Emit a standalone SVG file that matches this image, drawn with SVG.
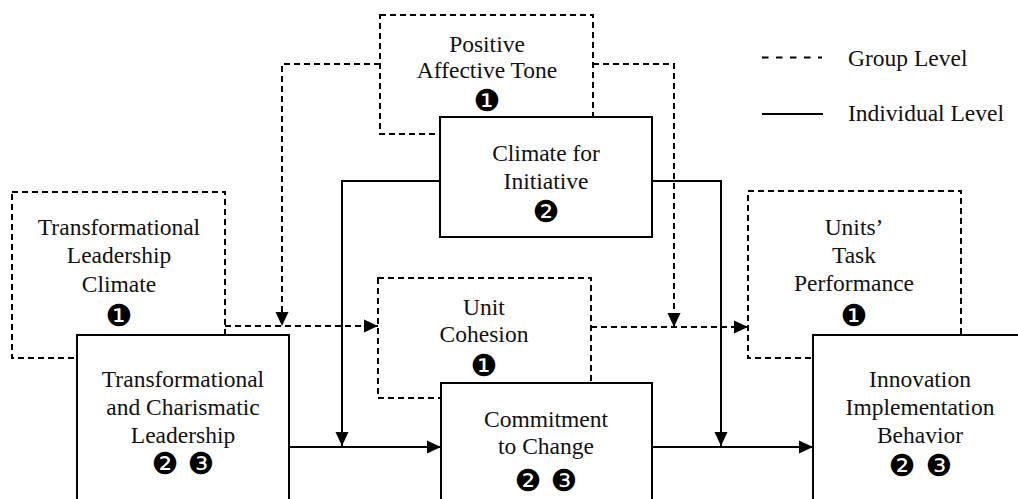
<svg xmlns="http://www.w3.org/2000/svg" width="1018" height="499" viewBox="0 0 1018 499">
  <style>
    .grp { fill: none; stroke: #000; stroke-width: 2; stroke-dasharray: 6 4; }
    .ind { fill: #fff; stroke: #000; stroke-width: 2; }
    .dash { fill: none; stroke: #000; stroke-width: 2; stroke-dasharray: 6 4; }
    .solid { fill: none; stroke: #000; stroke-width: 2; }
    .lbl { font-family: "Liberation Serif", "Times New Roman", serif; font-size: 23.5px; fill: #111; text-anchor: middle; }
    .leg { font-family: "Liberation Serif", "Times New Roman", serif; font-size: 23.5px; fill: #111; }
    .num { font-family: "DejaVu Sans", sans-serif; font-size: 30px; fill: #000; text-anchor: middle; }
  </style>
  <defs>
    <marker id="arrow" viewBox="0 0 14 14" refX="14" refY="7" markerWidth="14" markerHeight="14" markerUnits="userSpaceOnUse" orient="auto">
      <path d="M0,0.5 L14,7 L0,13.5 Z" fill="#000"/>
    </marker>
  </defs>
  <rect width="1018" height="499" fill="#fff"/>

  <!-- group-level constructs (dashed) -->
  <g id="positive-affective-tone">
    <rect class="grp" x="380" y="15" width="213" height="119"/>
    <text class="lbl" x="487" y="52">Positive</text>
    <text class="lbl" x="487" y="78">Affective Tone</text>
    <text class="num" x="487" y="110.5">❶</text>
  </g>
  <g id="transformational-leadership-climate">
    <rect class="grp" x="12" y="192" width="213" height="166"/>
    <text class="lbl" x="119" y="235">Transformational</text>
    <text class="lbl" x="119" y="263">Leadership</text>
    <text class="lbl" x="119" y="292">Climate</text>
    <text class="num" x="119" y="325.5">❶</text>
  </g>
  <g id="unit-cohesion">
    <rect class="grp" x="378" y="278" width="213" height="120"/>
    <text class="lbl" x="484" y="315">Unit</text>
    <text class="lbl" x="484" y="342">Cohesion</text>
    <text class="num" x="484" y="375.5">❶</text>
  </g>
  <g id="units-task-performance">
    <rect class="grp" x="748" y="191" width="213" height="167"/>
    <text class="lbl" x="854" y="235">Units’</text>
    <text class="lbl" x="854" y="263">Task</text>
    <text class="lbl" x="854" y="291">Performance</text>
    <text class="num" x="854" y="325.5">❶</text>
  </g>

  <!-- connectors -->
  <g id="connectors">
    <polyline class="dash" points="380,64 282,64 282,326" marker-end="url(#arrow)"/>
    <polyline class="dash" points="593,64 674,64 674,327" marker-end="url(#arrow)"/>
    <line class="dash" x1="225" y1="326" x2="378" y2="326" marker-end="url(#arrow)"/>
    <line class="dash" x1="591" y1="327" x2="748" y2="327" marker-end="url(#arrow)"/>
    <polyline class="solid" points="440,181 342,181 342,446" marker-end="url(#arrow)"/>
    <polyline class="solid" points="652,181 721,181 721,446" marker-end="url(#arrow)"/>
    <line class="solid" x1="289" y1="447" x2="441" y2="447" marker-end="url(#arrow)"/>
    <line class="solid" x1="652" y1="447" x2="813" y2="447" marker-end="url(#arrow)"/>
  </g>

  <!-- individual-level constructs (solid) -->
  <g id="climate-for-initiative">
    <rect class="ind" x="440" y="117" width="212" height="120"/>
    <text class="lbl" x="546" y="161">Climate for</text>
    <text class="lbl" x="546" y="189">Initiative</text>
    <text class="num" x="546" y="221.5">❷</text>
  </g>
  <g id="transformational-charismatic-leadership">
    <rect class="ind" x="77" y="335" width="212" height="180"/>
    <text class="lbl" x="183" y="387">Transformational</text>
    <text class="lbl" x="183" y="415">and Charismatic</text>
    <text class="lbl" x="183" y="443">Leadership</text>
    <text class="num" x="165" y="473.5">❷</text>
    <text class="num" x="201" y="473.5">❸</text>
  </g>
  <g id="commitment-to-change">
    <rect class="ind" x="441" y="383" width="211" height="130"/>
    <text class="lbl" x="546" y="427">Commitment</text>
    <text class="lbl" x="546" y="454">to Change</text>
    <text class="num" x="528" y="490.5">❷</text>
    <text class="num" x="564" y="490.5">❸</text>
  </g>
  <g id="innovation-implementation-behavior">
    <rect class="ind" x="813" y="335" width="214" height="180"/>
    <text class="lbl" x="920" y="387">Innovation</text>
    <text class="lbl" x="920" y="415">Implementation</text>
    <text class="lbl" x="920" y="443">Behavior</text>
    <text class="num" x="902" y="475.5">❷</text>
    <text class="num" x="939" y="475.5">❸</text>
  </g>

  <!-- legend -->
  <g id="legend">
    <line x1="762" y1="57.5" x2="822" y2="57.5" stroke="#000" stroke-width="2" stroke-dasharray="6.5 7.5"/>
    <text class="leg" x="848" y="66">Group Level</text>
    <line x1="762" y1="114" x2="823" y2="114" stroke="#000" stroke-width="2"/>
    <text class="leg" x="848" y="121">Individual Level</text>
  </g>
</svg>
